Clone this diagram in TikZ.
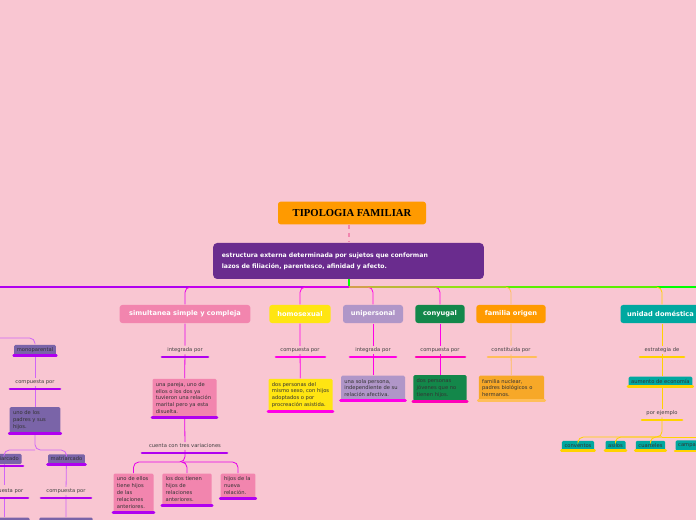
\documentclass[tikz,border=0pt]{standalone}
\usepackage{fontspec}
\setmainfont{DejaVu Sans}
\newfontfamily\titlefont{Liberation Serif}
\hyphenpenalty=10000
\exhyphenpenalty=10000
\definecolor{bgpink}{RGB}{249,198,210}
\definecolor{tiporange}{RGB}{255,154,0}
\definecolor{structpurple}{RGB}{106,44,142}
\definecolor{simpink}{RGB}{242,133,174}
\definecolor{homoyellow}{RGB}{255,229,18}
\definecolor{unilav}{RGB}{176,150,200}
\definecolor{conygreen}{RGB}{19,135,74}
\definecolor{origorange}{RGB}{247,168,40}
\definecolor{uniteal}{RGB}{0,168,160}
\definecolor{monoviolet}{RGB}{122,100,168}
\definecolor{linepurple}{RGB}{176,0,240}
\definecolor{linemag}{RGB}{255,0,230}
\definecolor{lineorange}{RGB}{255,190,90}
\definecolor{lineyellow}{RGB}{255,210,0}
\tikzset{every picture/.style={line width=0.75pt}}
\tikzset{
	topic/.style={rounded corners=2pt, inner sep=2pt, minimum height=13.5pt, text=white, font=\fontsize{5}{6}\selectfont\bfseries},
	lbl/.style={inner sep=1pt, text=black!75, font=\fontsize{3.9}{5}\selectfont},
	note/.style={rounded corners=1pt, inner sep=2.5pt, align=flush left, text=black!80, font=\fontsize{3.9}{5.2}\selectfont},
	uline/.style={line width=2pt, line cap=round},
	conn/.style={line width=0.6pt, rounded corners=4pt}
}
\begin{document}
\begin{tikzpicture}[x=0.75pt,y=0.75pt,yscale=-1,xscale=1]
	\fill[bgpink] (0,0) rectangle (696,520);
	\useasboundingbox (0,0) rectangle (696,520);
	
	% root
	\node (tipo) [fill=tiporange, rounded corners=2pt, minimum width=111pt, minimum height=17pt, font=\titlefont\fontsize{8}{9}\selectfont\bfseries] at (352,213) {TIPOLOGIA FAMILIAR};
	\node (estr) [fill=structpurple, rounded corners=3pt, minimum width=203pt, minimum height=27pt, text width=190pt, align=left, text=white, font=\fontsize{4.6}{8}\selectfont\bfseries] at (348.5,261) {estructura externa determinada por sujetos que conforman\\lazos de filiación, parentesco, afinidad y afecto.};
	\draw[simpink, dashed, line width=0.8pt] (tipo.south -| 349,0) -- (estr.north -| 349,0);
	\coordinate (hub) at (349,287);
	\draw[green, line width=1pt] (estr.south -| hub) -- (hub) -- (696,287);
	\draw[linepurple, line width=1pt] (hub) -- (0,287);
	
	% branch titles
	\node (sim) [topic, fill=simpink, minimum width=98pt] at (185,314) {simultanea simple y compleja};
	\node (homo) [topic, fill=homoyellow, minimum width=46pt] at (300,314) {homosexual};
	\node (unip) [topic, fill=unilav, minimum width=45pt] at (373,314) {unipersonal};
	\node (cony) [topic, fill=conygreen, minimum width=37pt] at (440,314) {conyugal};
	\node (orig) [topic, fill=tiporange, minimum width=52pt] at (511,314) {familia origen};
	\node (unid) [topic, fill=uniteal, minimum width=60pt, anchor=west] at (620,314) {unidad doméstica};
	
	\draw[conn, linemag!70!linepurple] (hub) -| (sim);
	\draw[conn, linemag] (hub) -| (homo);
	\draw[conn, linemag] (hub) -| (unip);
	\draw[conn, linemag] (hub) -| (cony);
	\draw[conn, lineorange] (hub) -| (orig);
	\draw[conn, lineyellow] (hub) -| (unid.north -| 662,0);
	
	% simultanea
	\node (simA) [lbl] at (185,350) {integrada por};
	\node (simB) [note, fill=simpink, text width=43pt] at (184.5,398) {una pareja, uno de ellos o los dos ya tuvieron una relación marital pero ya esta disuelta.};
	\node (simC) [lbl] at (185,446) {cuenta con tres variaciones};
	\node (simD) [note, fill=simpink, text width=25pt, anchor=north] at (133.5,473) {uno de ellos tiene hijos de las relaciones anteriores.};
	\node (simE) [note, fill=simpink, text width=32pt, anchor=north] at (187,473) {los dos tienen hijos de relaciones anteriores.};
	\node (simF) [note, fill=simpink, text width=21pt, anchor=north] at (238,473) {hijos de la nueva relación.};
	\draw[conn, linemag!70!linepurple] (sim) -- (simA) (simA) -- (simB) (simB) -- (simC);
	\coordinate (simG) at (185,462);
	\draw[conn, linemag!70!linepurple] (simC) -- (simG) -| (simD);
	\draw[conn, linemag!70!linepurple] (simG) -| (simE);
	\draw[conn, linemag!70!linepurple] (simG) -| (simF);
	\draw[uline, linepurple] (162,357) -- (208,357);
	\draw[uline, linepurple] (simB.south west) -- (simB.south east);
	\draw[uline, linepurple] (142,453) -- (227,453);
	\foreach \n in {simD,simE,simF}
		\draw[uline, linepurple] (\n.south west) -- (\n.south east);
	
	% homosexual
	\node (homoA) [lbl] at (300,350) {compuesta por};
	\node (homoB) [note, fill=homoyellow, text width=43pt] at (300.5,395) {dos personas del mismo sexo, con hijos adoptados o por procreación asistida.};
	\draw[conn, linemag] (homo) -- (homoA) (homoA) -- (homoB);
	\draw[uline, linemag] (276,357) -- (325,357);
	\draw[uline, linemag] (homoB.south west) -- (homoB.south east);
	
	% unipersonal
	\node (unipA) [lbl] at (373,350) {integrada por};
	\node (unipB) [note, fill=unilav, text width=43pt] at (373,388) {una sola persona, independiente de su relación afectiva.};
	\draw[conn, linemag] (unip) -- (unipA) (unipA) -- (unipB);
	\draw[uline, linemag] (350,357) -- (396,357);
	\draw[uline, linemag] (unipB.south west) -- (unipB.south east);
	
	% conyugal
	\node (conyA) [lbl] at (440,350) {compuesta por};
	\node (conyB) [note, fill=conygreen, text width=35pt] at (440,388) {dos personas jóvenes que no tienen hijos.};
	\draw[conn, linemag] (cony) -- (conyA) (conyA) -- (conyB);
	\draw[uline, linemag!80!red] (416,357) -- (465,357);
	\draw[uline, linemag!80!red] (conyB.south west) -- (conyB.south east);
	
	% familia origen
	\node (origA) [lbl] at (511,350) {constituida por};
	\node (origB) [note, fill=origorange, text width=44pt] at (511.5,388) {familia nuclear, padres biológicos o hermanos.};
	\draw[conn, lineorange] (orig) -- (origA) (origA) -- (origB);
	\draw[uline, lineorange] (488,357) -- (536,357);
	\draw[uline, lineorange] (origB.south west) -- (origB.south east);
	
	% unidad domestica
	\node (unidA) [lbl] at (662,350) {estrategia de};
	\node (unidB) [note, fill=uniteal, anchor=west, inner sep=2pt] at (628,381.5) {aumento de economía};
	\node (unidC) [lbl] at (662,413) {por ejemplo};
	\draw[conn, lineyellow] (unid.south -| unidA) -- (unidA) (unidA) -- (unidB.north -| unidA) (unidB.south -| unidA) -- (unidC);
	\coordinate (unidG) at (662,437);
	\node (conv) [note, fill=uniteal, inner sep=2pt] at (578,445.5) {conventos};
	\node (asil) [note, fill=uniteal, inner sep=2pt] at (615.5,445.5) {asilos};
	\node (cuar) [note, fill=uniteal, inner sep=2pt] at (650.5,445.5) {cuarteles};
	\node (camp) [note, fill=uniteal, inner sep=2pt, anchor=west] at (675,445.5) {campamentos};
	\draw[conn, lineyellow] (unidC) -- (unidG) -| (conv);
	\draw[conn, lineyellow] (unidG) -| (asil);
	\draw[conn, lineyellow] (unidG) -| (cuar);
	\draw[conn, lineyellow] (unidG) -- (700,437);
	\draw[uline, lineyellow] (640,357) -- (684,357);
	\draw[uline, lineyellow] (unidB.south west) -- (unidB.south east);
	\draw[uline, lineyellow] (642,420) -- (682,420);
	\foreach \n in {conv,asil,cuar,camp}
		\draw[uline, lineyellow] (\n.south west) -- (\n.south east);
	
	% monoparental (cut at left)
	\node (mono) [note, fill=monoviolet, inner sep=2pt] at (35,350) {monoparental};
	\node (monoA) [lbl] at (35,382) {compuesta por};
	\node (monoB) [note, fill=monoviolet, text width=33pt] at (35,420) {uno de los padres y sus hijos.};
	\coordinate (monoG) at (35,450);
	\node (patr) [note, fill=monoviolet, inner sep=2pt, anchor=east] at (22,459) {patriarcado};
	\node (matr) [note, fill=monoviolet, inner sep=2pt] at (66.5,459) {matriarcado};
	\node (patrA) [lbl, anchor=east] at (25,491) {compuesta por};
	\node (matrA) [lbl] at (66,491) {compuesta por};
	\node (patrB) [fill=monoviolet, rounded corners=1pt, minimum width=30pt, minimum height=8pt, anchor=north east] at (30,517) {};
	\node (matrB) [fill=monoviolet, rounded corners=1pt, minimum width=40pt, minimum height=8pt, anchor=north] at (66,517) {};
	\draw[conn, linepurple!60] (0,338) -| (mono);
	\draw[conn, linepurple!60] (mono) -- (monoA) (monoA) -- (monoB);
	\draw[conn, linepurple!60] (monoB) -- (monoG) -| (matr);
	\draw[conn, linepurple!60] (monoG) -| (4,455);
	\draw[conn, linepurple!60] (4,464) -- (4,485) (4,497) -- (4,517);
	\draw[conn, linepurple!60] (matr) -- (matrA) (matrA) -- (matrB);
	\draw[uline, linepurple] (mono.south west) -- (mono.south east);
	\draw[uline, linepurple] (10,389) -- (60,389);
	\draw[uline, linepurple] (monoB.south west) -- (monoB.south east);
	\draw[uline, linepurple] (0,466) -- (23,466);
	\draw[uline, linepurple] (matr.south west) -- (matr.south east);
	\draw[uline, linepurple] (0,498) -- (28,498);
	\draw[uline, linepurple] (41,498) -- (91,498);
\end{tikzpicture}
\end{document}
